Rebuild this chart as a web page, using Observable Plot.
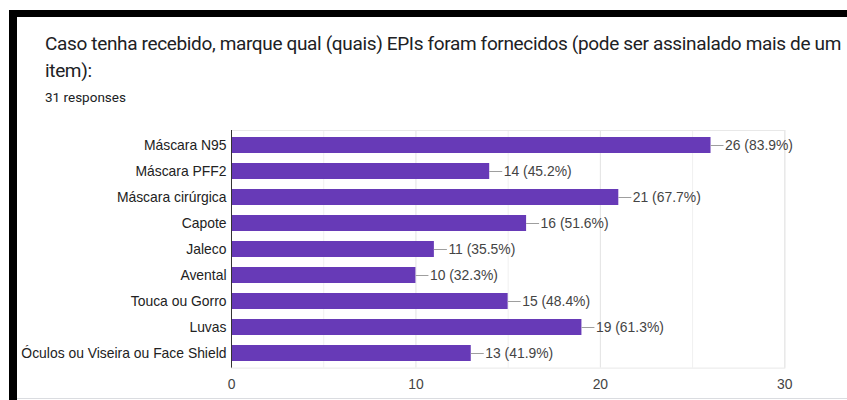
<!DOCTYPE html>
<html>
<head>
<meta charset="utf-8">
<script src="https://cdn.jsdelivr.net/npm/d3@7"></script>
<script src="https://cdn.jsdelivr.net/npm/@observablehq/plot@0.6"></script>
<style>
  html, body { margin: 0; padding: 0; background: #fff; }
  #page { position: relative; width: 847px; height: 400px; overflow: hidden; background: #fff; }
  .bar-top { position: absolute; left: 9px; top: 10px; width: 838px; height: 7px; background: #000; }
  .bar-left { position: absolute; left: 9px; top: 10px; width: 8px; height: 390px; background: #000; }
  .bar-bottom { position: absolute; left: 17px; top: 398px; width: 830px; height: 1px; background: #dadce0; }
  #title { position: absolute; left: 45px; top: 30px; font-family: Roboto, "Open Sans", sans-serif; font-size: 19px; letter-spacing: -0.35px; line-height: 27px; color: #202124; white-space: nowrap; }
  #subtitle { position: absolute; left: 45px; top: 89px; font-family: Roboto, sans-serif; font-size: 13.5px; color: #202124; white-space: nowrap; }
  #chart { position: absolute; left: 0; top: 110px; }
</style>
</head>
<body>
<div id="page">
  <div class="bar-top"></div>
  <div class="bar-left"></div>
  <div class="bar-bottom"></div>
  <div id="title">Caso tenha recebido, marque qual (quais) EPIs foram fornecidos (pode ser assinalado mais de um<br>item):</div>
  <div id="subtitle">31 responses</div>
  <div id="chart"></div>
</div>
<script>
const categories = ["Máscara N95", "Máscara PFF2", "Máscara cirúrgica", "Capote", "Jaleco", "Avental", "Touca ou Gorro", "Luvas", "Óculos ou Viseira ou Face Shield"];
const counts = [26, 14, 21, 16, 11, 10, 15, 19, 13];
const percents = ["83.9%", "45.2%", "67.7%", "51.6%", "35.5%", "32.3%", "48.4%", "61.3%", "41.9%"];
const majorTicks = [0, 10, 20, 30];
const minorTicks = [5, 15, 25];

const data = categories.map((c, i) => ({category: c, value: counts[i], label: `${counts[i]} (${percents[i]})`}));

const marginLeft = 231, marginRight = 62.7;
const width = 847;
const pxPerUnit = (width - marginLeft - marginRight) / 30;
const connector = 13 / pxPerUnit;

const chart = Plot.plot({
  width: 847,
  height: 290,
  marginLeft,
  marginRight,
  marginTop: 20,
  marginBottom: 32.4,
  style: {fontFamily: "Arial, 'Liberation Sans', sans-serif", fontSize: "13.9px", background: "transparent"},
  x: {domain: [0, 30], ticks: majorTicks, label: null},
  y: {domain: categories, padding: 0, label: null},
  marks: [
    Plot.ruleX(minorTicks, {stroke: "#f0f0f0"}),
    Plot.ruleX(majorTicks, {stroke: "#e3e3e3"}),
    Plot.frame({stroke: "#e8e8e8"}),
    Plot.barX(data, {y: "category", x: "value", fill: "#673ab7", insetTop: 5, insetBottom: 5}),
    Plot.ruleY(data, {y: "category", x1: "value", x2: d => d.value + connector, stroke: "#9e9e9e", strokeWidth: 1}),
    Plot.text(data, {y: "category", x: "value", text: "label", dx: 14, textAnchor: "start", fill: "#444", fontSize: 13.9}),
    Plot.ruleX([0], {stroke: "#333"}),
    Plot.axisY({tickSize: 0, tickPadding: 5, fill: "#222", fontSize: 13.9}),
    Plot.axisX({ticks: majorTicks, tickSize: 0, tickPadding: 11, fill: "#444", fontSize: 13.9, tickFormat: d => d})
  ]
});
document.getElementById("chart").appendChild(chart);
</script>
</body>
</html>
